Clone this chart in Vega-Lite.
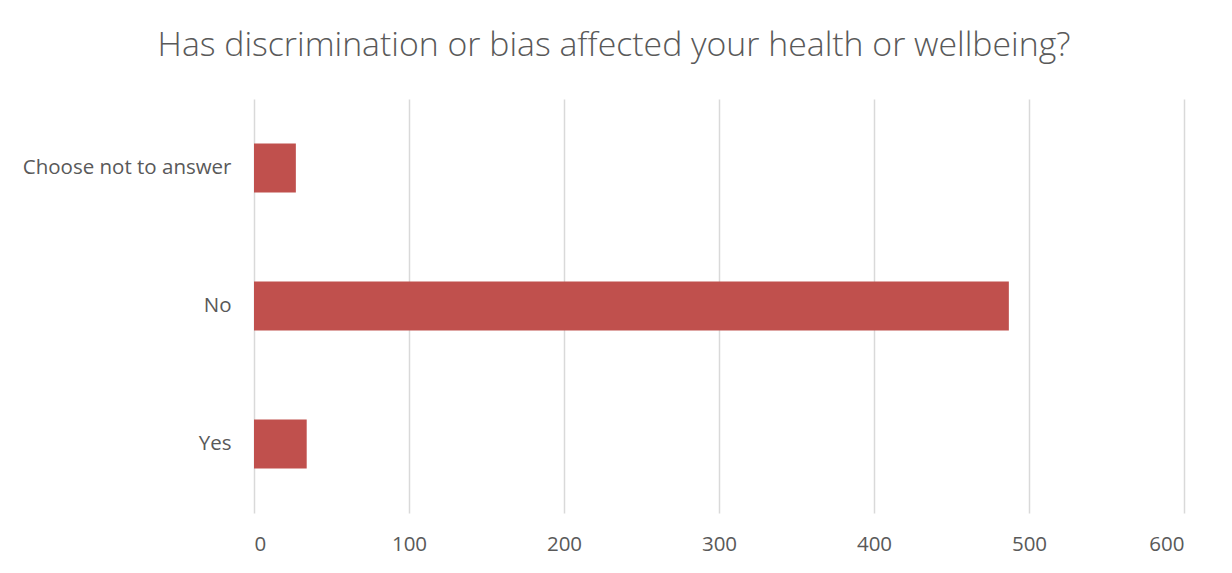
{
  "$schema": "https://vega.github.io/schema/vega-lite/v6.json",
  "autosize": "none",
  "width": 930,
  "height": 414,
  "padding": {"left": 254, "top": 99, "right": 48, "bottom": 60},
  "background": "white",
  "title": {
    "text": "Has discrimination or bias affected your health or wellbeing?",
    "font": "Open Sans",
    "fontSize": 33.8,
    "fontWeight": 300,
    "color": "#595959",
    "anchor": "middle",
    "dx": -105,
    "offset": 36
  },
  "data": {
    "values": [
      {"answer": "Choose not to answer", "count": 27},
      {"answer": "No", "count": 487},
      {"answer": "Yes", "count": 34}
    ]
  },
  "mark": {"type": "bar", "color": "#c0504d"},
  "encoding": {
    "y": {
      "field": "answer",
      "type": "nominal",
      "sort": ["Choose not to answer", "No", "Yes"],
      "scale": {"paddingInner": 0.645, "paddingOuter": 0.3225},
      "axis": {
        "title": null,
        "domain": false,
        "ticks": false,
        "grid": false,
        "labelFont": "Open Sans",
        "labelFontSize": 20.5,
        "labelColor": "#595959",
        "labelPadding": 23,
        "labelLimit": 400
      }
    },
    "x": {
      "field": "count",
      "type": "quantitative",
      "scale": {"domain": [0, 600], "nice": false},
      "axis": {
        "title": null,
        "values": [0, 100, 200, 300, 400, 500, 600],
        "domain": false,
        "ticks": false,
        "grid": true,
        "gridColor": "#d9d9d9",
        "gridWidth": 1.5,
        "labelFont": "Open Sans",
        "labelFontSize": 20.5,
        "labelColor": "#595959",
        "labelPadding": 21
      }
    }
  },
  "config": {"view": {"stroke": null}}
}
